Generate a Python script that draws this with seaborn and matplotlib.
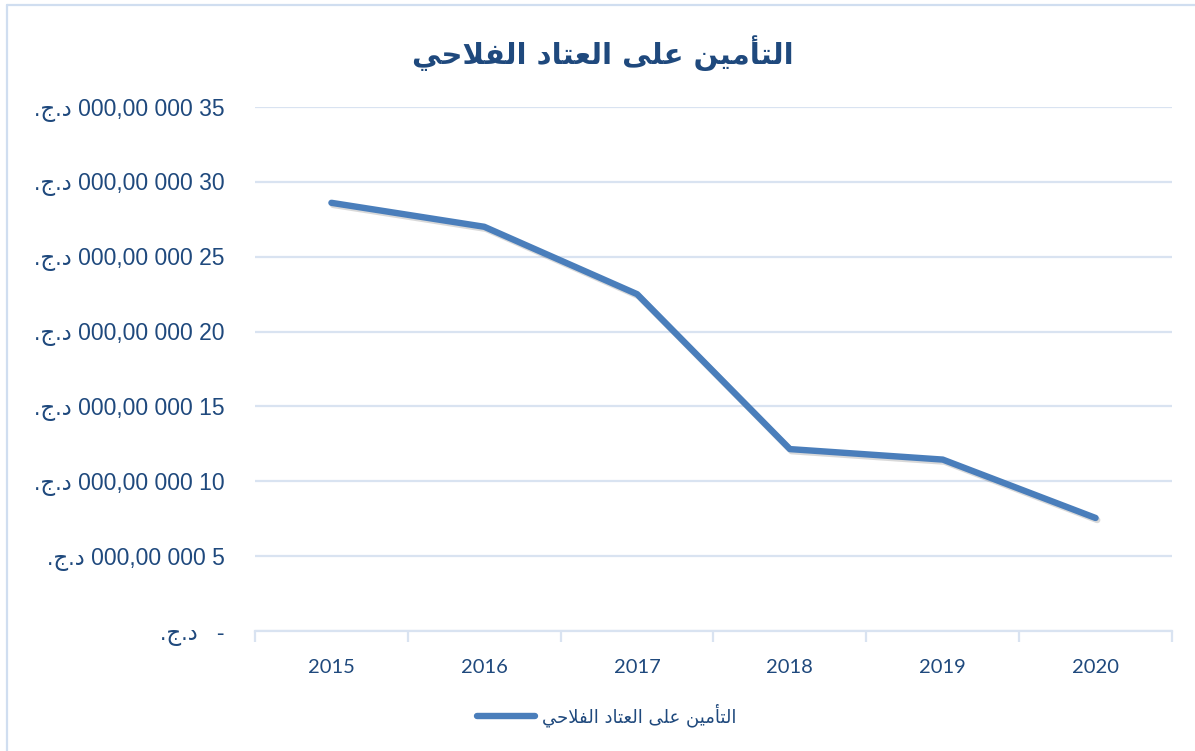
import matplotlib
matplotlib.use("Agg")
import matplotlib.pyplot as plt
import matplotlib.patheffects as pe
import matplotlib.ticker as ticker
import pandas as pd
import seaborn as sns

# chart data
years = ["2015", "2016", "2017", "2018", "2019", "2020"]
values = [28.6e6, 27.0e6, 22.5e6, 12.15e6, 11.45e6, 7.55e6]
title = "التأمين على العتاد الفلاحي"
series_name = "التأمين على العتاد الفلاحي"
currency = "د.ج."
y_ticks = [0, 5e6, 10e6, 15e6, 20e6, 25e6, 30e6, 35e6]

# minimal arabic shaping (matplotlib has no complex text layout)
FORMS = {
    'ا': ('\uFE8D', '\uFE8E', None, None),
    'أ': ('\uFE83', '\uFE84', None, None),
    'د': ('\uFEA9', '\uFEAA', None, None),
    'ى': ('\uFEEF', '\uFEF0', None, None),
    'ل': ('\uFEDD', '\uFEDE', '\uFEDF', '\uFEE0'),
    'ت': ('\uFE95', '\uFE96', '\uFE97', '\uFE98'),
    'م': ('\uFEE1', '\uFEE2', '\uFEE3', '\uFEE4'),
    'ي': ('\uFEF1', '\uFEF2', '\uFEF3', '\uFEF4'),
    'ن': ('\uFEE5', '\uFEE6', '\uFEE7', '\uFEE8'),
    'ع': ('\uFEC9', '\uFECA', '\uFECB', '\uFECC'),
    'ف': ('\uFED1', '\uFED2', '\uFED3', '\uFED4'),
    'ح': ('\uFEA1', '\uFEA2', '\uFEA3', '\uFEA4'),
    'ج': ('\uFE9D', '\uFE9E', '\uFE9F', '\uFEA0'),
}
LAM_ALEF = {'ا': ('\uFEFB', '\uFEFC'), 'أ': ('\uFEF7', '\uFEF8')}


def joins_next(item):
    c = item[0]
    return c != 'LA' and c in FORMS and FORMS[c][2] is not None


def joins_prev(item):
    return item[0] == 'LA' or item[0] in FORMS


def shape(word):
    items = []
    i = 0
    while i < len(word):
        c = word[i]
        if c == 'ل' and i + 1 < len(word) and word[i + 1] in LAM_ALEF:
            items.append(('LA', word[i + 1]))
            i += 2
        else:
            items.append((c, None))
            i += 1
    out = []
    for k, (c, extra) in enumerate(items):
        jp = k > 0 and joins_next(items[k - 1])
        if c == 'LA':
            out.append(LAM_ALEF[extra][1 if jp else 0])
            continue
        if c not in FORMS:
            out.append(c)
            continue
        f = FORMS[c]
        jn = k + 1 < len(items) and f[2] is not None and joins_prev(items[k + 1])
        if jp and jn:
            out.append(f[3])
        elif jp:
            out.append(f[1])
        elif jn:
            out.append(f[2])
        else:
            out.append(f[0])
    return "".join(out)


def visual(text):
    tokens = text.split(' ')[::-1]
    res = []
    for t in tokens:
        if any('\u0600' <= ch <= '\u06FF' for ch in t):
            res.append(shape(t)[::-1])
        else:
            res.append(t)
    return ' '.join(res)


def money(v, pos=None):
    if v == 0:
        return visual("-   " + currency)
    num = f"{v:,.2f}".replace(',', ' ').replace('.', ',')
    return visual(num + " " + currency)


dark = "#1F497D"
line_col = "#4A7EBB"
grid_col = "#D9E3F1"

sns.set_style("white")
plt.rcParams['font.family'] = ['Liberation Sans', 'DejaVu Sans']

fig = plt.figure(figsize=(11.95, 7.51), dpi=100)
ax = fig.add_axes([255 / 1195, 1 - 631 / 751, (1172 - 255) / 1195, (631 - 107) / 751])

df = pd.DataFrame({"year": years, "value": values})
sns.lineplot(data=df, x="year", y="value", ax=ax, color=line_col, linewidth=4.6,
             solid_capstyle="round", solid_joinstyle="round", label=visual(series_name),
             path_effects=[pe.SimpleLineShadow(offset=(1.2, -1.5), alpha=0.2, shadow_color="#444444"),
                           pe.Normal()], legend=False)

ax.set_xlim(-0.5, len(years) - 0.5)
ax.set_ylim(0, 35e6)
ax.set_yticks(y_ticks)
ax.yaxis.set_major_formatter(ticker.FuncFormatter(money))
ax.grid(axis='y', color=grid_col, linewidth=1.6)
ax.set_axisbelow(True)
for s in ["left", "right", "top"]:
    ax.spines[s].set_visible(False)
ax.spines["bottom"].set_color(grid_col)
ax.spines["bottom"].set_linewidth(1.6)
ax.set_xlabel("")
ax.set_ylabel("")

ax.set_xticks(range(len(years)))
ax.set_xticklabels(years, fontsize=14.5, color=dark, family=['Lato', 'DejaVu Sans'])
ax.set_xticks([i - 0.5 for i in range(len(years) + 1)], minor=True)
ax.tick_params(axis='x', which='major', bottom=True, length=0, pad=20)
ax.tick_params(axis='x', which='minor', bottom=True, length=8, width=1.6, color=grid_col, direction='out')
ax.tick_params(axis='y', length=0, pad=22, labelsize=16.5, labelcolor=dark)

fig.text(603 / 1195, 1 - 53 / 751, visual(title), ha='center', va='center',
         fontsize=21, fontweight='bold', color=dark, family=['DejaVu Sans'])

h, l = ax.get_legend_handles_labels()
leg = fig.legend(h, l, loc='center', bbox_to_anchor=(607 / 1195, 1 - 715 / 751),
                 frameon=False, handlelength=3.2, handletextpad=0.4,
                 prop={'family': ['DejaVu Sans'], 'size': 13})
for t in leg.get_texts():
    t.set_color(dark)
for ln in leg.get_lines():
    ln.set_linewidth(4.6)
    ln.set_path_effects([])

# chart frame
fig.add_artist(plt.Line2D([7 / 1195, 7 / 1195], [0, 1 - 5 / 751], color="#D0DEF0", linewidth=1.6))
fig.add_artist(plt.Line2D([7 / 1195, 1], [1 - 5 / 751, 1 - 5 / 751], color="#D0DEF0", linewidth=1.6))

fig.savefig("out.png", dpi=100)
